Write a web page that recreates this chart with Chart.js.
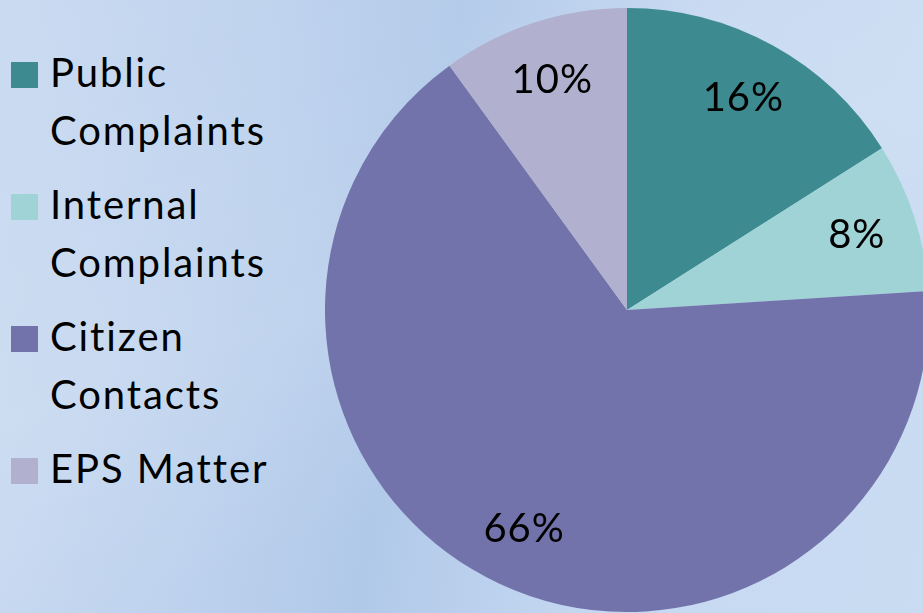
<!DOCTYPE html>
<html>
<head>
<meta charset="utf-8">
<script src="https://cdn.jsdelivr.net/npm/chart.js@4"></script>
<style>
    html, body {
        margin: 0;
        width: 923px;
        height: 613px;
        overflow: hidden;
    }
    body {
        position: relative;
        background:
            linear-gradient(160deg, rgba(255,255,255,0) 0%, rgba(255,255,255,0.10) 45%, rgba(255,255,255,0) 70%),
            linear-gradient(100deg, #cadbf1 0%, #bfd3ee 25%, #b1c9e9 45%, #c6d9f1 70%, #cadcf2 100%);
        font-family: Lato, "Open Sans", sans-serif;
    }
    #legend {
        position: absolute;
        left: 11px;
        top: 43px;
        margin: 0;
        padding: 0;
        list-style: none;
    }
    #legend li {
        position: relative;
        display: block;
        padding-left: 39px;
        font-size: 40px;
        letter-spacing: 1.9px;
        line-height: 58px;
        color: #000;
        margin: 0 0 16px 0;
        white-space: pre;
    }
    #legend .box {
        position: absolute;
        left: 0;
        top: 19px;
        width: 27px;
        height: 26px;
    }
    #wrap {
        position: absolute;
        left: 317px;
        top: 0;
        width: 620px;
        height: 620px;
    }
</style>
</head>
<body>
<ul id="legend"></ul>
<div id="wrap"><canvas id="pieChart"></canvas></div>
<script>
const categories = ["Public Complaints", "Internal Complaints", "Citizen Contacts", "EPS Matter"];
const legendLines = [["Public", "Complaints"], ["Internal", "Complaints"], ["Citizen", "Contacts"], ["EPS Matter"]];
const shares = [16, 8, 66, 10];
const sliceColors = ["#3d8b90", "#9fd3d6", "#7373ac", "#b1b0ce"];

// legend in html so the two-line labels wrap like the original
const legendEl = document.getElementById("legend");
categories.forEach((name, i) => {
    const li = document.createElement("li");
    const box = document.createElement("span");
    box.className = "box";
    box.style.background = sliceColors[i];
    li.appendChild(box);
    li.appendChild(document.createTextNode(legendLines[i].join("\n")));
    legendEl.appendChild(li);
});

// percent labels inside the slices
const sliceLabels = {
    id: "sliceLabels",
    afterDatasetsDraw(chart) {
        const ctx = chart.ctx;
        const meta = chart.getDatasetMeta(0);
        ctx.save();
        ctx.font = "40px Lato, 'Open Sans', sans-serif";
        ctx.letterSpacing = "1px";
        ctx.fillStyle = "#000";
        ctx.textAlign = "center";
        ctx.textBaseline = "middle";
        meta.data.forEach((arc, i) => {
            const p = arc.getProps(["x", "y", "startAngle", "endAngle", "outerRadius"], true);
            const mid = (p.startAngle + p.endAngle) / 2;
            const r = p.outerRadius * 0.8;
            ctx.fillText(shares[i] + "%", p.x + Math.cos(mid) * r, p.y + Math.sin(mid) * r);
        });
        ctx.restore();
    }
};

new Chart(document.getElementById("pieChart"), {
    type: "pie",
    data: {
        labels: categories,
        datasets: [{
            data: shares,
            backgroundColor: sliceColors,
            borderWidth: 0
        }]
    },
    options: {
        responsive: true,
        maintainAspectRatio: false,
        animation: false,
        layout: { padding: 8 },
        plugins: {
            legend: { display: false },
            tooltip: { enabled: false }
        }
    },
    plugins: [sliceLabels]
});
</script>
</body>
</html>
